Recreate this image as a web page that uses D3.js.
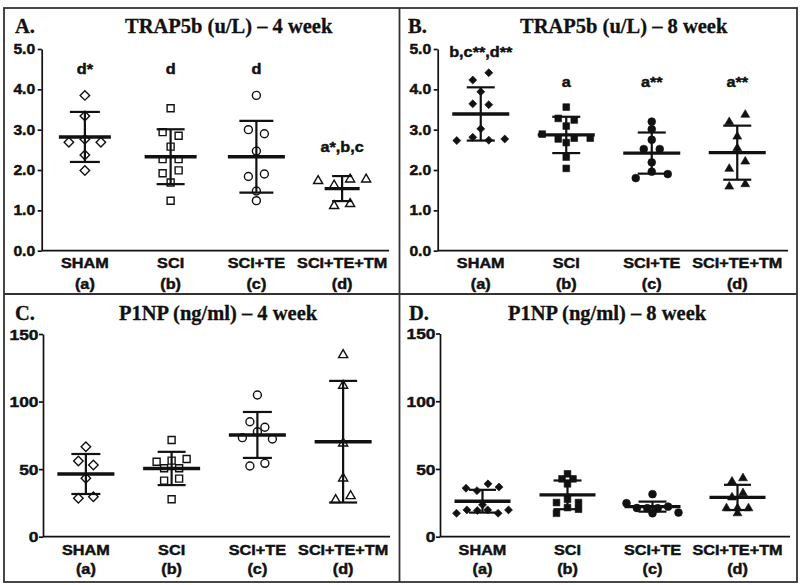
<!DOCTYPE html>
<html><head><meta charset="utf-8">
<script src="https://cdn.jsdelivr.net/npm/d3@7"></script>
<style>body{margin:0;background:#fff}</style>
</head><body><svg id="c" width="800" height="585"></svg>
<script>
// ---------------- DATA ----------------
const groups = ["SHAM", "SCI", "SCI+TE", "SCI+TE+TM"];
const groupLetters = ["(a)", "(b)", "(c)", "(d)"];
const panelLetters = ["A.", "B.", "C.", "D."];
const panelTitles = ["TRAP5b (u/L) \u2013 4 week", "TRAP5b (u/L) \u2013 8 week",
                     "P1NP (ng/ml) \u2013 4 week", "P1NP (ng/ml) \u2013 8 week"];
const trapTicks = [0, 1, 2, 3, 4, 5];
const p1npTicks = [0, 50, 100, 150];

// Panel A: TRAP5b 4 week
const aSham = [3.85, 3.34, 2.69, 2.76, 2.69, 2.37, 1.99];
const aSci = [3.53, 2.94, 2.85, 2.58, 2.27, 2.27, 1.92, 1.99, 1.69, 1.24];
const aSciTe = [3.85, 3.00, 2.90, 2.47, 1.84, 1.90, 1.48, 1.24];
const aSciTeTm = [1.73, 1.62, 1.77, 1.77, 1.11, 1.16];
const aMean = [2.82, 2.33, 2.33, 1.54];
const aSD = [0.62, 0.68, 0.89, 0.31];
const aLabels = ["d*", "d", "d", "a*,b,c"];

// Panel B: TRAP5b 8 week
const bSham = [4.23, 4.41, 3.94, 3.64, 3.62, 3.02, 2.73, 2.81, 2.74, 2.77];
const bSci = [3.56, 3.28, 3.24, 3.09, 2.89, 2.77, 2.79, 2.79, 2.68, 2.32, 2.04];
const bSciTe = [3.20, 3.01, 2.75, 2.52, 2.52, 2.19, 1.80, 1.96, 1.90];
const bSciTeTm = [3.19, 3.37, 2.83, 2.54, 2.03, 2.21, 1.59, 1.65];
const bMean = [3.39, 2.87, 2.42, 2.43];
const bSD = [0.66, 0.45, 0.51, 0.67];
const bLabels = ["b,c**,d**", "a", "a**", "a**"];

// Panel C: P1NP 4 week
const cSham = [66.6, 56.0, 53.0, 43.2, 28.4, 29.6];
const cSci = [71.6, 55.5, 56.3, 57.5, 50.6, 50.6, 41.5, 43.0, 27.7];
const cSciTe = [104.9, 85.1, 81.0, 73.3, 77.7, 72.3, 52.3, 54.3];
const cSciTeTm = [134.5, 111.8, 69.1, 43.2, 27.2, 30.1];
const cMean = [46.4, 50.5, 75.3, 70.3];
const cSD = [14.8, 12.3, 17.0, 45.0];

// Panel D: P1NP 8 week
const dSham = [35.8, 34.0, 39.0, 36.6, 23.5, 17.3, 19.8, 19.3, 19.8, 17.3, 19.8];
const dSci = [46.4, 42.7, 42.7, 39.0, 25.2, 27.7, 25.2, 17.3, 21.5, 20.3];
const dSciTe = [31.4, 24.7, 21.2, 21.0, 21.0, 22.2, 17.8, 17.3];
const dSciTeTm = [40.7, 43.2, 29.0, 32.1, 17.3, 21.0, 21.0, 21.0];
const dMean = [26.2, 30.9, 22.2, 29.0];
const dSD = [8.4, 10.6, 3.7, 9.3];

// ---------------- LAYOUT / STYLE ----------------
const SANS = "'Liberation Sans', Arial, Helvetica, sans-serif";
const SERIF = "'Liberation Serif', 'Times New Roman', Times, serif";
const INK = "#111";
const SX = 1.12; // horizontal stretch of sans text in the reference

const panels = [
  {vals: [aSham, aSci, aSciTe, aSciTeTm], mean: aMean, sd: aSD, labels: aLabels, annY: [4.38, 4.38, 4.38, 2.45],
   ticks: trapTicks, fmt: d3.format(".1f"), domain: [0, 5], tickFont: 14, tickGap: 2.5,
   xr: [42, 385], axisX: 41.7, axisEnd: 389, yr: [250.7, 49], filled: false,
   letterX: 15, titleX: 125, titleY: 33.3, catY: 268.3, letY: 288.5,
   spacing: 16, hStart: 7.5, hChain: 7.5, meanW: [52, 52, 57, 35], capW: [30, 28, 34, 20]},
  {vals: [bSham, bSci, bSciTe, bSciTeTm], mean: bMean, sd: bSD, labels: bLabels, annY: [4.79, 4.05, 4.05, 4.05],
   ticks: trapTicks, fmt: d3.format(".1f"), domain: [0, 5], tickFont: 14, tickGap: 2.5,
   xr: [438, 780], axisX: 437.7, axisEnd: 788, yr: [250.7, 49], filled: true,
   letterX: 408, titleX: 520, titleY: 33.3, catY: 268.3, letY: 288.5,
   spacing: 16, hStart: 7.5, hChain: 7.5, meanW: [57, 57, 57, 57], capW: [28, 28, 28, 28]},
  {vals: [cSham, cSci, cSciTe, cSciTeTm], mean: cMean, sd: cSD, labels: null,
   ticks: p1npTicks, fmt: d3.format("d"), domain: [0, 150], tickFont: 15.5, tickGap: 0.5,
   xr: [43, 386], axisX: 43, axisEnd: 390, yr: [536.7, 334], filled: false,
   letterX: 15, titleX: 119, titleY: 319.8, catY: 554.5, letY: 574.3,
   spacing: 15, hStart: 7.5, hChain: 7.5, meanW: [57, 57, 57, 57], capW: [29, 28, 29, 28]},
  {vals: [dSham, dSci, dSciTe, dSciTeTm], mean: dMean, sd: dSD, labels: null,
   ticks: p1npTicks, fmt: d3.format("d"), domain: [0, 150], tickFont: 15.5, tickGap: 0.5,
   xr: [440, 780], axisX: 440, axisEnd: 790, yr: [536.7, 333.5], filled: true,
   letterX: 409, titleX: 508, titleY: 319.8, catY: 554.5, letY: 574.3,
   spacing: 11, hStart: 10, hChain: 4.5, meanW: [56, 56, 56, 56], capW: [27, 28, 28, 27]}
];

const symbolTypes = [d3.symbolSquare, d3.symbolSquare, d3.symbolCircle, d3.symbolTriangle];
const rot = [45, 0, 0, 0];
const openSize = [45, 49, 50, 36];
const fillSize = [32, 45, 48, 34];

// ---------------- DRAW ----------------
const svg = d3.select("#c");
svg.append("rect").attr("width", 800).attr("height", 585).attr("fill", "#fff");

function stext(x, y, s, o) {
  return svg.append("text")
    .attr("transform", `translate(${x},${y}) scale(${o.sx ?? SX},1)`)
    .attr("text-anchor", o.anchor || "middle")
    .attr("font-family", o.family || SANS)
    .attr("font-weight", "bold")
    .attr("font-size", o.size)
    .attr("fill", INK)
    .attr("stroke", INK)
    .attr("stroke-width", o.sw ?? 0.45)
    .text(s);
}

function swarm(vals, y, P) {
  const idx = vals.map((v, i) => i).sort((a, b) => vals[b] - vals[a] || a - b);
  const rows = [];
  let cur = null;
  idx.forEach(i => {
    const py = y(vals[i]);
    if (cur && py - cur.start < P.hStart && py - cur.prev < P.hChain) { cur.items.push(i); cur.prev = py; }
    else { cur = {start: py, prev: py, items: [i]}; rows.push(cur); }
  });
  const off = vals.map(() => 0);
  rows.forEach(r => {
    r.items.sort((a, b) => a - b);
    const n = r.items.length;
    const s = n > 1 ? Math.min(P.spacing, 52 / (n - 1)) : 0;
    r.items.forEach((i, k) => off[i] = (k - (n - 1) / 2) * s);
  });
  return off;
}

panels.forEach((P, pi) => {
  const x = d3.scaleBand().domain(groups).range(P.xr);
  const y = d3.scaleLinear().domain(P.domain).range(P.yr);
  const g = svg.append("g");

  // titles
  stext(P.letterX, P.titleY, panelLetters[pi], {size: 20.5, anchor: "start", family: SERIF, sx: 1, sw: 0.3});
  stext(P.titleX, P.titleY, panelTitles[pi], {size: 20.5, anchor: "start", family: SERIF, sx: 1, sw: 0.3});

  // y axis
  const ax = g.append("g").attr("transform", `translate(${P.axisX},0)`)
    .call(d3.axisLeft(y).tickValues(P.ticks).tickSize(4).tickSizeOuter(0).tickFormat(""));
  ax.selectAll("path,line").attr("stroke", INK).attr("stroke-width", 1.7);
  P.ticks.forEach(t => stext(P.axisX - 4 - P.tickGap, y(t) + P.tickFont * 0.36, P.fmt(t),
    {size: P.tickFont, anchor: "end"}));

  // x axis line
  g.append("line").attr("x1", P.axisX).attr("x2", P.axisEnd)
    .attr("y1", y(0)).attr("y2", y(0)).attr("stroke", INK).attr("stroke-width", 1.7);

  groups.forEach((grp, gi) => {
    const cx = x(grp) + x.bandwidth() / 2;
    stext(cx, P.catY, grp, {size: 14.5});
    stext(cx, P.letY, groupLetters[gi], {size: 14.5});

    const vals = P.vals[gi];
    const off = swarm(vals, y, P);
    const sym = d3.symbol().type(symbolTypes[gi]).size(P.filled ? fillSize[gi] : openSize[gi]);
    g.append("g").selectAll("path").data(vals).join("path")
      .attr("d", sym)
      .attr("transform", (d, i) => `translate(${cx + off[i]},${y(d)}) rotate(${rot[gi]})`)
      .attr("fill", P.filled ? INK : "none")
      .attr("stroke", INK)
      .attr("stroke-width", P.filled ? 0.6 : 1.4);

    const m = P.mean[gi], s = P.sd[gi];
    const lines = g.append("g").attr("stroke", INK);
    lines.append("line").attr("x1", cx).attr("x2", cx).attr("y1", y(m - s)).attr("y2", y(m + s)).attr("stroke-width", 2.2);
    [m - s, m + s].forEach(v => lines.append("line")
      .attr("x1", cx - P.capW[gi] / 2).attr("x2", cx + P.capW[gi] / 2)
      .attr("y1", y(v)).attr("y2", y(v)).attr("stroke-width", 2.2));
    lines.append("line").attr("x1", cx - P.meanW[gi] / 2).attr("x2", cx + P.meanW[gi] / 2)
      .attr("y1", y(m)).attr("y2", y(m)).attr("stroke-width", 3.4);

    if (P.labels) stext(cx, y(P.annY[gi]), P.labels[gi], {size: 14.5});
  });
});

// frame
const frame = svg.append("g").attr("stroke", "#333").attr("stroke-width", 1.8).attr("fill", "none");
frame.append("rect").attr("x", 4).attr("y", 8).attr("width", 793).attr("height", 574);
frame.append("line").attr("x1", 399.5).attr("x2", 399.5).attr("y1", 8).attr("y2", 582);
frame.append("line").attr("x1", 4).attr("x2", 797).attr("y1", 294).attr("y2", 294);
</script>
</body></html>
